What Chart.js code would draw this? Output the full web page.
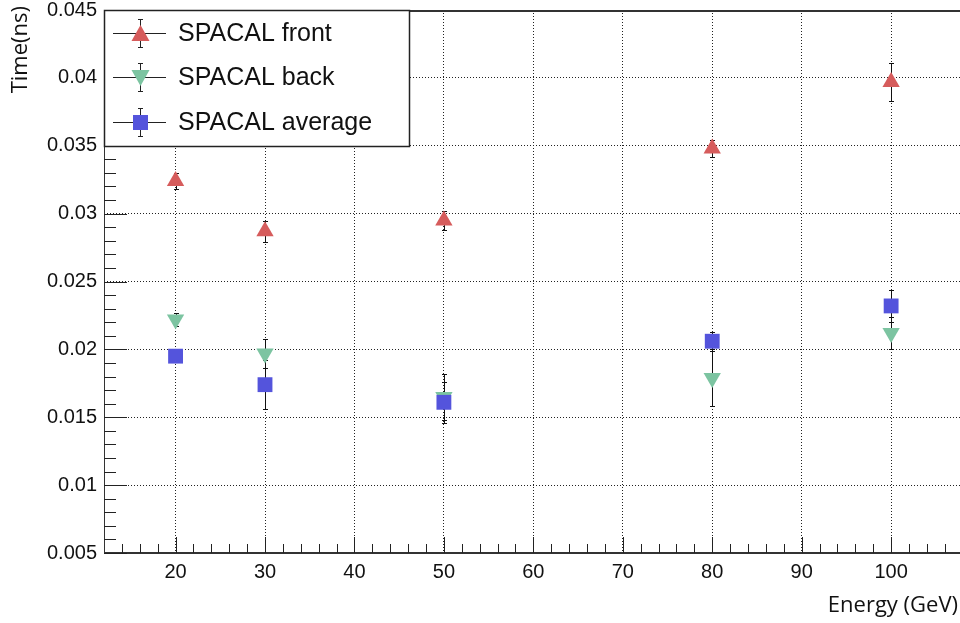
<!DOCTYPE html>
<html>
<head>
<meta charset="utf-8">
<title>SPACAL timing</title>
<script src="https://cdn.jsdelivr.net/npm/chart.js@4.4.0/dist/chart.umd.min.js"></script>
<style>
  html, body { margin: 0; padding: 0; background: #fff; overflow: hidden; }
  #wrap { width: 960px; height: 623px; }
</style>
</head>
<body>
<div id="wrap"><canvas id="timeChart" width="960" height="623"></canvas></div>
<script>
// data
var energies = [20, 30, 50, 80, 100];
var frontTime = [0.0324, 0.0287, 0.0295, 0.0348, 0.0397];
var frontErr = [0.0006, 0.00077, 0.0007, 0.0006, 0.0014];
var backTime = [0.0222, 0.0197, 0.0165, 0.0179, 0.0212];
var backErr = [0.0005, 0.0011, 0.0017, 0.0021, 0.0012];
var avgTime = [0.0195, 0.0174, 0.0161, 0.0206, 0.0232];
var avgErr = [0.0004, 0.0018, 0.0015, 0.0007, 0.0012];
var seriesNames = ['SPACAL front', 'SPACAL back', 'SPACAL average'];
var xTicks = [20, 30, 40, 50, 60, 70, 80, 90, 100];
var yTicks = [0.005, 0.01, 0.015, 0.02, 0.025, 0.03, 0.035, 0.04, 0.045];
var yTickLabels = ['0.005', '0.01', '0.015', '0.02', '0.025', '0.03', '0.035', '0.04', '0.045'];

var colFront = '#d65c5c';
var colBack = '#7cc4a1';
var colAvg = '#5454dc';
var tickFont = { family: '"Liberation Sans", Arial, sans-serif', size: 20 };
var titleFont = '22px "Open Sans", sans-serif';

function toPoints(ys) {
  return energies.map(function (e, i) { return { x: e, y: ys[i] }; });
}

// marker shapes like the ROOT ones (also used in the legend)
function drawMarker(ctx, kind, x, y, color) {
  ctx.save();
  ctx.fillStyle = color;
  ctx.beginPath();
  if (kind === 'up') {
    ctx.moveTo(x, y - 8.5); ctx.lineTo(x + 9, y + 7.5); ctx.lineTo(x - 9, y + 7.5);
  } else if (kind === 'down') {
    ctx.moveTo(x, y + 8.5); ctx.lineTo(x + 9, y - 7.5); ctx.lineTo(x - 9, y - 7.5);
  } else {
    ctx.rect(x - 7.5, y - 7.5, 15, 15);
  }
  ctx.closePath();
  ctx.fill();
  ctx.restore();
}

function errorBar(ctx, x, y1, y2) {
  ctx.beginPath();
  ctx.moveTo(x + 0.5, y1); ctx.lineTo(x + 0.5, y2);
  ctx.moveTo(x - 2, y1 + 0.5); ctx.lineTo(x + 3, y1 + 0.5);
  ctx.moveTo(x - 2, y2 + 0.5); ctx.lineTo(x + 3, y2 + 0.5);
  ctx.stroke();
}

var errSets = [frontErr, backErr, avgErr];
var valSets = [frontTime, backTime, avgTime];
var markerKinds = ['up', 'down', 'square'];
var markerColors = [colFront, colBack, colAvg];

var rootStyle = {
  id: 'rootStyle',
  beforeDatasetsDraw: function (chart) {
    var ctx = chart.ctx, xs = chart.scales.x, ys = chart.scales.y;
    ctx.save();
    ctx.strokeStyle = '#111';
    ctx.lineWidth = 1;
    for (var s = 0; s < valSets.length; s++) {
      for (var i = 0; i < energies.length; i++) {
        var px = Math.round(xs.getPixelForValue(energies[i]));
        var top = Math.round(ys.getPixelForValue(valSets[s][i] + errSets[s][i]));
        var bot = Math.round(ys.getPixelForValue(valSets[s][i] - errSets[s][i]));
        errorBar(ctx, px, top, bot);
      }
    }
    ctx.restore();
  },
  afterDraw: function (chart) {
    var ctx = chart.ctx, a = chart.chartArea, xs = chart.scales.x, ys = chart.scales.y;
    var v, p;
    ctx.save();
    // frame lines
    ctx.strokeStyle = '#333';
    ctx.lineWidth = 2;
    ctx.beginPath();
    ctx.moveTo(a.left, a.top + 1); ctx.lineTo(a.right, a.top + 1);
    ctx.moveTo(a.left, a.bottom); ctx.lineTo(a.right, a.bottom);
    ctx.stroke();
    ctx.lineWidth = 1;
    ctx.beginPath();
    ctx.moveTo(a.left + 0.5, a.top); ctx.lineTo(a.left + 0.5, a.bottom);
    ctx.stroke();

    // ticks on the inside, major + minor
    ctx.strokeStyle = '#222';
    ctx.beginPath();
    for (v = 5; v <= 45; v++) {
      p = Math.round(ys.getPixelForValue(v / 1000)) + 0.5;
      var len = (v % 5 === 0) ? 23 : 12;
      ctx.moveTo(a.left, p); ctx.lineTo(a.left + len, p);
    }
    for (v = 14; v <= 106; v += 2) {
      p = Math.round(xs.getPixelForValue(v)) + 0.5;
      var h = (v % 10 === 0) ? 16 : 9;
      ctx.moveTo(p, a.bottom); ctx.lineTo(p, a.bottom - h);
    }
    ctx.stroke();

    // legend box
    var bx1 = a.left, by1 = a.top, bx2 = 409, by2 = 146;
    ctx.fillStyle = '#fff';
    ctx.fillRect(bx1, by1, bx2 - bx1, by2 - by1);
    ctx.strokeStyle = '#222';
    ctx.lineWidth = 1.5;
    ctx.strokeRect(bx1 + 0.5, by1 + 0.5, bx2 - bx1, by2 - by1);
    var rows = [33, 77, 122];
    ctx.lineWidth = 1;
    ctx.font = '25px "Liberation Sans", Arial, sans-serif';
    ctx.textBaseline = 'middle';
    for (var r = 0; r < seriesNames.length; r++) {
      var cy = rows[r];
      ctx.strokeStyle = '#222';
      ctx.beginPath();
      ctx.moveTo(113, cy + 0.5); ctx.lineTo(166, cy + 0.5);
      ctx.stroke();
      errorBar(ctx, 140, cy - 14, cy + 14);
      drawMarker(ctx, markerKinds[r], 140.5, cy + 0.5, markerColors[r]);
      ctx.fillStyle = '#111';
      ctx.fillText(seriesNames[r], 178, cy + 1);
    }

    // axis titles
    ctx.fillStyle = '#111';
    ctx.font = titleFont;
    ctx.save();
    ctx.translate(21, 6);
    ctx.rotate(-Math.PI / 2);
    ctx.textAlign = 'right';
    ctx.textBaseline = 'middle';
    ctx.fillText('Time(ns)', 0, 0);
    ctx.restore();
    ctx.textAlign = 'right';
    ctx.textBaseline = 'middle';
    ctx.fillText('Energy (GeV)', 958, 606);
    ctx.restore();
  }
};

var ctx = document.getElementById('timeChart').getContext('2d');
var timeChart = new Chart(ctx, {
  type: 'scatter',
  data: {
    datasets: [
      {
        label: seriesNames[0],
        data: toPoints(frontTime),
        pointStyle: 'triangle',
        pointRadius: 10,
        pointBackgroundColor: colFront,
        pointBorderWidth: 0,
        order: 3
      },
      {
        label: seriesNames[1],
        data: toPoints(backTime),
        pointStyle: 'triangle',
        pointRotation: 180,
        pointRadius: 10,
        pointBackgroundColor: colBack,
        pointBorderWidth: 0,
        order: 2
      },
      {
        label: seriesNames[2],
        data: toPoints(avgTime),
        pointStyle: 'rect',
        pointRadius: 10.5,
        pointBackgroundColor: colAvg,
        pointBorderWidth: 0,
        order: 1
      }
    ]
  },
  options: {
    responsive: false,
    animation: false,
    layout: { autoPadding: false, padding: { top: 10, left: 0, right: 0, bottom: 0 } },
    plugins: {
      legend: { display: false },
      tooltip: { enabled: false }
    },
    scales: {
      x: {
        type: 'linear',
        min: 12,
        max: 107.7,
        afterBuildTicks: function (s) { s.ticks = xTicks.map(function (v) { return { value: v }; }); },
        afterFit: function (s) {
          s.height = 70;
          s.paddingLeft = 0; s.paddingRight = 0;
        },
        ticks: { font: tickFont, color: '#111', padding: 7, maxRotation: 0 },
        grid: { color: '#222', lineWidth: 1, drawTicks: false },
        border: { display: false, dash: [1, 2] }
      },
      y: {
        type: 'linear',
        min: 0.005,
        max: 0.045,
        afterBuildTicks: function (s) { s.ticks = yTicks.map(function (v) { return { value: v }; }); },
        afterFit: function (s) {
          s.width = 104;
          s.paddingTop = 0; s.paddingBottom = 0;
        },
        ticks: {
          font: tickFont, color: '#111', padding: 7,
          callback: function (value, index) { return yTickLabels[index]; }
        },
        grid: { color: '#222', lineWidth: 1, drawTicks: false },
        border: { display: false, dash: [1, 2] }
      }
    }
  },
  plugins: [rootStyle]
});
</script>
</body>
</html>
